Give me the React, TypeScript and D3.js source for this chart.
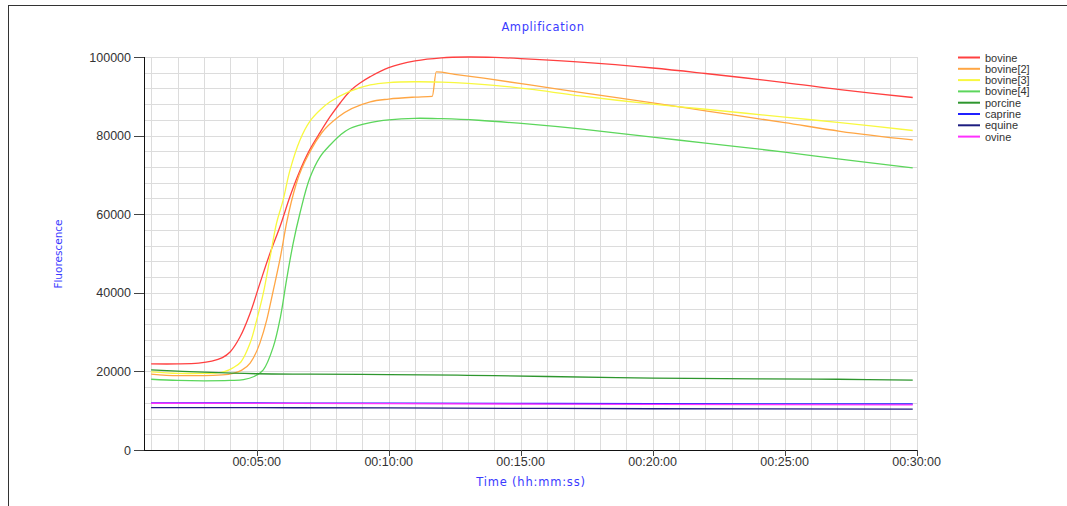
import React from "react";
import * as d3 from "d3";

// time in minutes, fluorescence
const bovine: [number, number][] = [
  [1, 21900], [2, 21900], [2.8, 22100], [3.3, 22600], [3.7, 23500], [4, 25000], [4.37, 28800], [4.75, 34800],
  [5.12, 42400], [5.5, 50000], [5.9, 57200], [6.26, 64500], [6.6, 70500], [7, 76300], [7.4, 80800],
  [7.78, 84800], [8.16, 88300], [8.53, 91300], [8.9, 93300], [9.3, 95000], [10, 97300], [11, 99000],
  [12, 99800], [13, 100000], [14, 99900], [15, 99600], [17, 98800], [20, 97200], [22, 95800],
  [25, 93500], [27.1, 91700], [29.85, 89700],
];
const bovine2: [number, number][] = [
  [1, 19300], [2, 18900], [3, 18900], [3.7, 19100], [4.1, 19500], [4.4, 20200], [4.75, 22100], [5.12, 27200],
  [5.38, 33100], [5.63, 40700], [5.9, 49200], [6.13, 57700], [6.5, 67800], [7.05, 76300],
  [7.45, 80600], [8.1, 84800], [9.3, 88600], [10, 89300], [11, 89800], [11.65, 90000],
  [11.8, 96200], [12.5, 95600], [13.6, 94600], [15.35, 92900], [17.25, 91000], [20, 88300],
  [22, 86300], [25, 83300], [27.1, 81100], [29.85, 78900],
];
const bovine3: [number, number][] = [
  [1, 19900], [2, 19500], [3, 19500], [3.5, 19600], [3.8, 20000], [4.1, 20900], [4.4, 22400], [4.75, 27200],
  [5, 33100], [5.25, 39900], [5.5, 48800], [5.75, 57700], [6, 63600], [6.26, 71200], [6.64, 78900],
  [7, 83500], [7.4, 86500], [7.78, 88600], [8.5, 91200], [9.3, 92900], [10, 93500], [11, 93700],
  [12, 93600], [13, 93300], [14, 92800], [15.35, 91800], [17.25, 90100], [20, 88000], [22, 86700],
  [25, 84700], [27.1, 83300], [29.85, 81300],
];
const bovine4: [number, number][] = [
  [1, 18000], [2, 17700], [3, 17600], [4, 17700], [4.5, 17900], [4.9, 18700], [5.25, 20400], [5.63, 26300],
  [5.9, 33900], [6.13, 43300], [6.38, 52600], [6.64, 60300], [7, 69000], [7.4, 74600], [7.78, 77600],
  [8.16, 80100], [8.53, 81800], [9.3, 83300], [10, 84000], [11, 84400], [12, 84300], [13.4, 83900],
  [15.35, 82900], [17.25, 81700], [20, 79600], [22, 78100], [25, 75800], [27.1, 74000], [29.85, 71800],
];
const porcine: [number, number][] = [
  [1, 20400], [3, 19800], [5, 19400], [7, 19300], [10, 19200], [13, 19000], [16, 18700],
  [20, 18300], [24, 18100], [27, 18000], [29.85, 17800],
];
const caprine: [number, number][] = [[1, 12000], [10, 11900], [20, 11800], [29.85, 11700]];
const equine: [number, number][] = [[1, 10800], [10, 10700], [20, 10500], [29.85, 10400]];
const ovine: [number, number][] = [[1, 11900], [10, 11800], [20, 11600], [29.85, 11500]];

const seriesNames = ["bovine", "bovine[2]", "bovine[3]", "bovine[4]", "porcine", "caprine", "equine", "ovine"];
const seriesData = [bovine, bovine2, bovine3, bovine4, porcine, caprine, equine, ovine];
const seriesColors = ["#ff4040", "#ffa644", "#f8f840", "#5cd65c", "#2e962e", "#2020ff", "#1c1c80", "#ff30ff"];

const yTicks = [0, 20000, 40000, 60000, 80000, 100000];
const xTicks = [5, 10, 15, 20, 25, 30];
const xTickLabels = ["00:05:00", "00:10:00", "00:15:00", "00:20:00", "00:25:00", "00:30:00"];

const W = 1067;
const H = 506;
const margin = { left: 144, right: 918, top: 57, bottom: 450 };

export default function App() {
  const x = d3.scaleLinear().domain([0.73, 30.05]).range([margin.left, margin.right]);
  const y = d3.scaleLinear().domain([0, 100000]).range([margin.bottom, margin.top]);

  const smooth = d3
    .line<[number, number]>()
    .x((d) => x(d[0]))
    .y((d) => y(d[1]))
    .curve(d3.curveCatmullRom.alpha(0.5));
  // bovine[2] has a step, monotone keeps it from overshooting
  const stepSafe = d3
    .line<[number, number]>()
    .x((d) => x(d[0]))
    .y((d) => y(d[1]))
    .curve(d3.curveMonotoneX);

  const vGrid = d3.range(1, 31);
  const hGrid = d3.range(4000, 100001, 4000);
  const font = "'Liberation Sans', Arial, sans-serif";
  const titleFont = "'DejaVu Sans', Verdana, sans-serif";

  return (
    <svg width={W} height={H} style={{ position: "absolute", left: 0, top: 0, background: "#fff" }}>
      {/* frame */}
      <line x1={8} x2={W} y1={5.5} y2={5.5} stroke="#333" />
      <line x1={8.5} x2={8.5} y1={5} y2={H} stroke="#333" />

      <text x={543} y={31} textAnchor="middle" fontFamily={titleFont} fontSize={11.5} letterSpacing={0.6} fill="#3a3aff">
        Amplification
      </text>

      {/* grid */}
      <g stroke="#dcdcdc" strokeWidth={1}>
        {vGrid.map((t) => (
          <line key={"v" + t} x1={Math.round(x(t)) + 0.5} x2={Math.round(x(t)) + 0.5} y1={margin.top} y2={margin.bottom} />
        ))}
        {hGrid.map((v) => (
          <line key={"h" + v} x1={margin.left} x2={margin.right} y1={Math.round(y(v)) + 0.5} y2={Math.round(y(v)) + 0.5} />
        ))}
      </g>

      {/* series */}
      {seriesData.map((d, i) => (
        <path
          key={seriesNames[i]}
          d={(i === 1 ? stepSafe(d) : smooth(d)) || ""}
          fill="none"
          stroke={seriesColors[i]}
          strokeWidth={1.3}
        />
      ))}

      {/* axes */}
      <line x1={margin.left + 0.5} x2={margin.left + 0.5} y1={margin.top} y2={margin.bottom} stroke="#111" />
      <line x1={margin.left} x2={margin.right} y1={margin.bottom + 0.5} y2={margin.bottom + 0.5} stroke="#111" />
      {yTicks.map((v) => (
        <g key={"yt" + v}>
          <line x1={margin.left - 10} x2={margin.left} y1={Math.round(y(v)) + 0.5} y2={Math.round(y(v)) + 0.5} stroke="#444" />
          <text x={131} y={y(v) + 4.5} textAnchor="end" fontFamily={font} fontSize={12.5} fill="#333">
            {v}
          </text>
        </g>
      ))}
      {xTicks.map((t, i) => (
        <g key={"xt" + t}>
          <line x1={Math.round(x(t)) + 0.5} x2={Math.round(x(t)) + 0.5} y1={margin.bottom} y2={margin.bottom + 6} stroke="#444" />
          <text x={x(t)} y={466} textAnchor="middle" fontFamily={font} fontSize={12.5} fill="#333">
            {xTickLabels[i]}
          </text>
        </g>
      ))}

      <text x={531} y={486} textAnchor="middle" fontFamily={titleFont} fontSize={11.5} letterSpacing={0.8} fill="#3a3aff">
        Time (hh:mm:ss)
      </text>
      <text
        transform="translate(62,254) rotate(-90)"
        textAnchor="middle"
        fontFamily={titleFont}
        fontSize={10.5}
        fill="#3a3aff"
      >
        Fluorescence
      </text>

      {/* legend */}
      {seriesNames.map((n, i) => {
        const ly = 57.5 + i * 11.3;
        return (
          <g key={"lg" + n}>
            <line x1={958} x2={980} y1={ly} y2={ly} stroke={seriesColors[i]} strokeWidth={2} />
            <text x={985} y={ly + 4} fontFamily={font} fontSize={11} fill="#333">
              {n}
            </text>
          </g>
        );
      })}
    </svg>
  );
}
